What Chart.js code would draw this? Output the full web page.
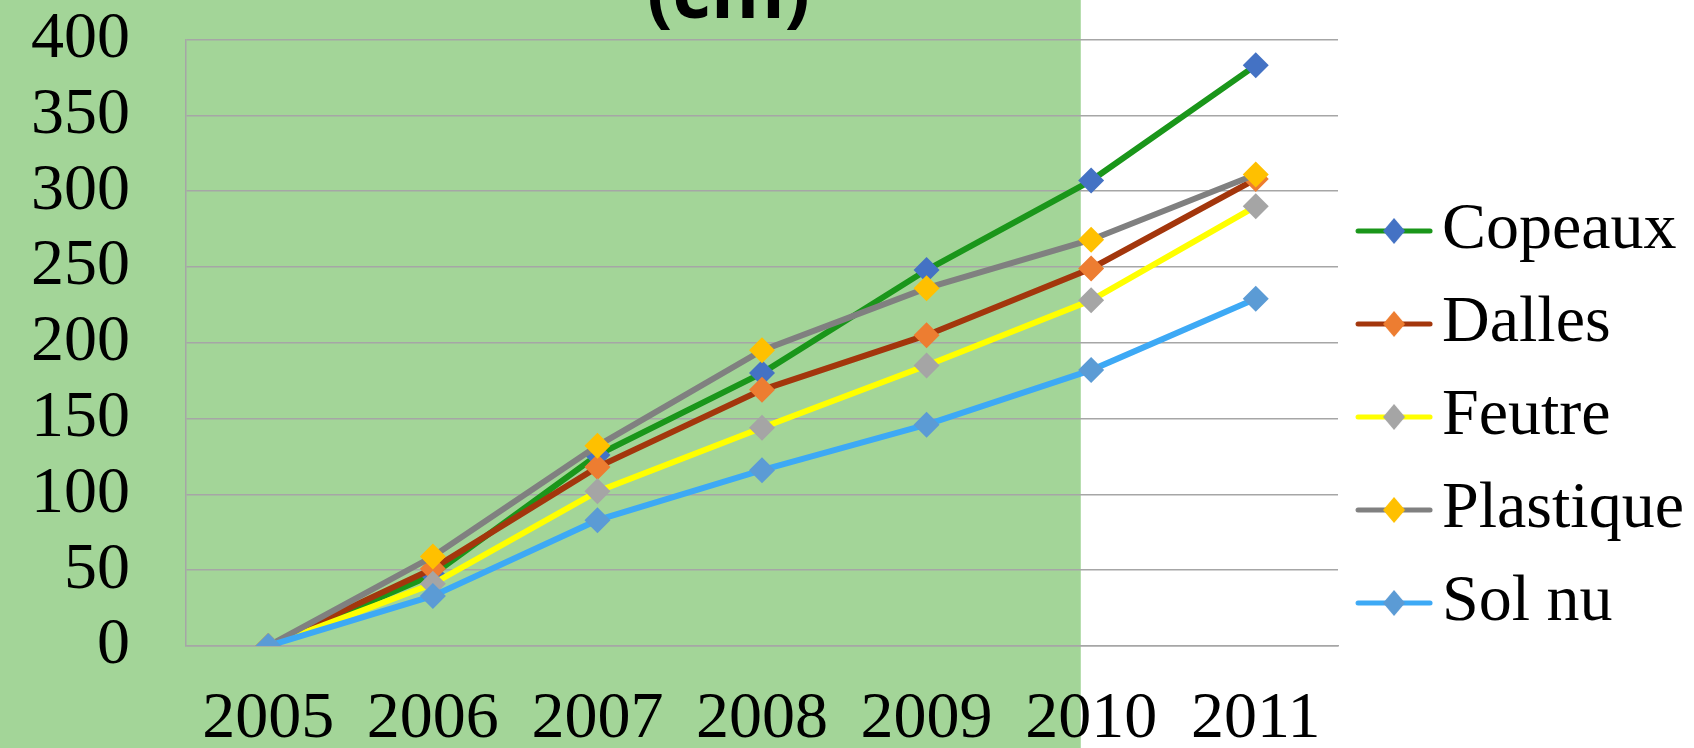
<!DOCTYPE html>
<html>
<head>
<meta charset="utf-8">
<script src="https://cdn.jsdelivr.net/npm/chart.js@4.4.1/dist/chart.umd.min.js"></script>
<style>
  html, body { margin: 0; padding: 0; background: #fff; }
</style>
</head>
<body>
<canvas id="graphique" width="1694" height="748"></canvas>
<script>
const annees = ["2005", "2006", "2007", "2008", "2009", "2010", "2011"];
const copeaux = [0, 47, 126, 180, 248, 307, 383];
const dalles = [0, 51, 118, 169, 205, 249, 308];
const feutre = [0, 41, 102, 144, 185, 228, 290];
const plastique = [0, 59, 132, 195, 236, 268, 311];
const solNu = [0, 33, 83, 116, 146, 182, 229];
const titre = "(cm)";

const series = [
    { nom: "Copeaux", valeurs: copeaux, ligne: "#1a961a", point: "#4472c4" },
    { nom: "Dalles", valeurs: dalles, ligne: "#a3360c", point: "#ed7d31" },
    { nom: "Feutre", valeurs: feutre, ligne: "#ffff00", point: "#a5a5a5" },
    { nom: "Plastique", valeurs: plastique, ligne: "#808080", point: "#ffc000" },
    { nom: "Sol nu", valeurs: solNu, ligne: "#3da9f5", point: "#5b9bd5" }
];

const police = "'Liberation Serif', 'Times New Roman', serif";
const largeurBoite = 44;

// petite image trait + losange pour la légende
function iconeLegende(s) {
    const c = document.createElement("canvas");
    c.width = largeurBoite + 48;
    c.height = 30;
    const g = c.getContext("2d");
    const debut = c.width - 78;
    g.strokeStyle = s.ligne;
    g.lineWidth = 5;
    g.lineCap = "round";
    g.beginPath();
    g.moveTo(debut + 3, 15);
    g.lineTo(c.width - 3, 15);
    g.stroke();
    const cx = debut + 39;
    g.fillStyle = s.point;
    g.beginPath();
    g.moveTo(cx, 2);
    g.lineTo(cx + 11, 15);
    g.lineTo(cx, 28);
    g.lineTo(cx - 11, 15);
    g.closePath();
    g.fill();
    return c;
}
const icones = series.map(iconeLegende);

const fondEtTitre = {
    id: "fondEtTitre",
    beforeDraw(chart) {
        const ctx = chart.ctx;
        ctx.save();
        ctx.fillStyle = "#ffffff";
        ctx.fillRect(0, 0, chart.width, chart.height);
        ctx.fillStyle = "#a3d598";
        ctx.fillRect(0, 0, chart.width * 0.638, chart.height);
        ctx.restore();
    },
    afterDraw(chart) {
        const ctx = chart.ctx;
        ctx.save();
        ctx.fillStyle = "#000";
        ctx.font = "bold 75px 'Open Sans', sans-serif";
        ctx.textAlign = "center";
        ctx.textBaseline = "alphabetic";
        ctx.fillText(titre, chart.width * 0.43, 18);
        ctx.restore();
    }
};

new Chart(document.getElementById("graphique"), {
    type: "line",
    data: {
        labels: annees,
        datasets: series.map((s, i) => ({
            label: s.nom,
            data: s.valeurs,
            borderColor: s.ligne,
            backgroundColor: s.point,
            borderWidth: 6,
            pointStyle: "rectRot",
            pointRadius: 13,
            pointBorderWidth: 0,
            pointBackgroundColor: s.point,
            tension: 0,
            order: series.length - i
        }))
    },
    options: {
        responsive: false,
        animation: false,
        layout: { padding: { left: 31, right: 0, top: 0, bottom: 0 } },
        plugins: {
            tooltip: { enabled: false },
            legend: {
                position: "right",
                align: "center",
                title: { display: true, text: "", font: { size: 86, lineHeight: 1 }, padding: 0 },
                labels: {
                    usePointStyle: true,
                    pointStyleWidth: largeurBoite,
                    padding: 27,
                    color: "#000",
                    font: { family: police, size: 66 },
                    sort: (a, b) => a.datasetIndex - b.datasetIndex,
                    generateLabels(chart) {
                        const items = Chart.defaults.plugins.legend.labels.generateLabels(chart);
                        items.forEach(it => { it.pointStyle = icones[it.datasetIndex]; });
                        return items;
                    }
                }
            }
        },
        scales: {
            x: {
                offset: true,
                grid: { display: false, drawTicks: true, tickLength: 45 },
                border: { display: true, color: "#a6a6a6", width: 1.5 },
                ticks: {
                    color: "#000",
                    font: { family: police, size: 66, lineHeight: 0.864 },
                    padding: 0,
                    maxRotation: 0,
                    autoSkip: false
                }
            },
            y: {
                min: 0,
                max: 400,
                grid: { color: "#a6a6a6", lineWidth: 1.5, drawTicks: true, tickLength: 56, tickColor: "rgba(0,0,0,0)" },
                border: { display: true, color: "#a6a6a6", width: 1.5 },
                ticks: {
                    stepSize: 50,
                    autoSkip: false,
                    color: "#000",
                    padding: 0,
                    font: { family: police, size: 66 }
                }
            }
        }
    },
    plugins: [fondEtTitre]
});
</script>
</body>
</html>
